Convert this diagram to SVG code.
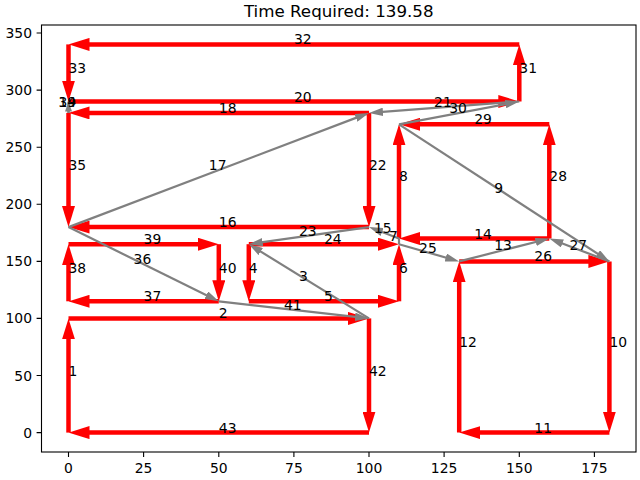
<svg xmlns="http://www.w3.org/2000/svg" width="640" height="480" viewBox="0 0 640 480">
<style>
text{font-family:"DejaVu Sans","Liberation Sans",sans-serif;fill:#000}
.lbl{font-size:13.9px}
.tick{font-size:13.9px}
.title{font-size:16.7px}
.red{stroke:#ff0000;stroke-width:4.5;fill:none;marker-end:url(#rh)}
.gray{stroke:#808080;stroke-width:2.2;fill:none;marker-end:url(#gh)}
.grayn{stroke:#808080;stroke-width:2.2;fill:none}
.tk{stroke:#000;stroke-width:1.1}
</style>
<defs>
<marker id="rh" viewBox="0 0 21 13" refX="11" refY="6.5" markerWidth="21" markerHeight="13" markerUnits="userSpaceOnUse" orient="auto"><path d="M0,0 L21,6.5 L0,13 z" fill="#ff0000"/></marker>
<marker id="gh" viewBox="0 0 14 8.4" refX="7" refY="4.2" markerWidth="14" markerHeight="8.4" markerUnits="userSpaceOnUse" orient="auto"><path d="M0,0 L14,4.2 L0,8.4 z" fill="#808080"/></marker>
</defs>
<rect width="640" height="480" fill="#fff"/>
<text class="title" x="338.75" y="16.7" text-anchor="middle">Time Required: 139.58</text>
<g id="connectors">
<g id="red-edges">
<path id="e1" class="red" d="M68.5,432.6 L68.5,328.4"/>
<path id="e2" class="red" d="M68.5,318.4 L359,318.4"/>
<path id="e4" class="red" d="M248.8,244.2 L248.8,291.3"/>
<path id="e5" class="red" d="M248.8,301.3 L389,301.3"/>
<path id="e6" class="red" d="M399,301.3 L399,254.2"/>
<path id="e8" class="red" d="M399,238.5 L399,134.3"/>
<path id="e10" class="red" d="M609.4,261.4 L609.4,422.6"/>
<path id="e11" class="red" d="M609.4,432.6 L469.2,432.6"/>
<path id="e12" class="red" d="M459.2,432.6 L459.2,271.4"/>
<path id="e14" class="red" d="M549.3,238.5 L409,238.5"/>
<path id="e16" class="red" d="M369,227.1 L78.5,227.1"/>
<path id="e18" class="red" d="M369,112.9 L78.5,112.9"/>
<path id="e20" class="red" d="M68.5,101.5 L509.3,101.5"/>
<path id="e22" class="red" d="M369,112.9 L369,217.1"/>
<path id="e24" class="red" d="M248.8,244.2 L389,244.2"/>
<path id="e26" class="red" d="M459.2,261.4 L599.4,261.4"/>
<path id="e28" class="red" d="M549.3,238.5 L549.3,134.3"/>
<path id="e29" class="red" d="M549.3,124.3 L409,124.3"/>
<path id="e31" class="red" d="M519.3,101.5 L519.3,54.4"/>
<path id="e32" class="red" d="M519.3,44.4 L78.5,44.4"/>
<path id="e33" class="red" d="M68.5,44.4 L68.5,91.5"/>
<path id="e35" class="red" d="M68.5,112.9 L68.5,217.1"/>
<path id="e37" class="red" d="M218.8,301.3 L78.5,301.3"/>
<path id="e38" class="red" d="M68.5,301.3 L68.5,254.2"/>
<path id="e39" class="red" d="M68.5,244.2 L208.8,244.2"/>
<path id="e40" class="red" d="M218.8,244.2 L218.8,291.3"/>
<path id="e42" class="red" d="M369,318.4 L369,422.6"/>
<path id="e43" class="red" d="M369,432.6 L78.5,432.6"/>
</g>
<g id="gray-edges">
<path id="e3" class="gray" d="M369,318.4 L254.76,247.88"/>
<path id="e7" class="grayn" d="M399,244.2 L399,238.5"/>
<path id="e9" class="gray" d="M399,124.3 L603.54,257.58"/>
<path id="e13" class="gray" d="M459.2,261.4 L542.52,240.22"/>
<path id="e15" class="gray" d="M399,238.5 L375.54,229.59"/>
<path id="e17" class="gray" d="M68.5,227.1 L362.46,115.39"/>
<path id="e21" class="gray" d="M519.3,101.5 L375.98,112.37"/>
<path id="e23" class="gray" d="M369,227.1 L255.73,243.21"/>
<path id="e25" class="gray" d="M399,244.2 L452.47,259.48"/>
<path id="e27" class="gray" d="M609.4,261.4 L555.84,240.99"/>
<path id="e30" class="gray" d="M399,124.3 L512.42,102.8"/>
<path id="e34" class="grayn" d="M68.5,101.5 L68.5,112.9"/>
<path id="e36" class="gray" d="M68.5,227.1 L212.52,298.2"/>
<path id="e41" class="gray" d="M218.8,301.3 L362.04,317.61"/>
<g id="e19"><path class="grayn" d="M68.5,112.9 L68.5,108"/><polygon points="68.5,101.5 72,111.5 65,111.5" fill="#808080"/></g>
</g>
</g>
<g id="axes">
<rect x="41.5" y="25" width="594.5" height="427" fill="none" stroke="#000" stroke-width="1.1"/>
<path class="tk" d="M68.5,452V456.9M143.6,452V456.9M218.8,452V456.9M293.9,452V456.9M369,452V456.9M444.1,452V456.9M519.3,452V456.9M594.4,452V456.9"/>
<path class="tk" d="M41.5,432.6H36.6M41.5,375.5H36.6M41.5,318.4H36.6M41.5,261.4H36.6M41.5,204.3H36.6M41.5,147.2H36.6M41.5,90.1H36.6M41.5,33H36.6"/>
<g class="tick" text-anchor="middle">
<text class="tick" x="68.5" y="472.5">0</text>
<text class="tick" x="143.6" y="472.5">25</text>
<text class="tick" x="218.8" y="472.5">50</text>
<text class="tick" x="293.9" y="472.5">75</text>
<text class="tick" x="369" y="472.5">100</text>
<text class="tick" x="444.1" y="472.5">125</text>
<text class="tick" x="519.3" y="472.5">150</text>
<text class="tick" x="594.4" y="472.5">175</text>
</g>
<g text-anchor="end">
<text class="tick" x="32" y="437.6">0</text>
<text class="tick" x="32" y="380.5">50</text>
<text class="tick" x="32" y="323.4">100</text>
<text class="tick" x="32" y="266.4">150</text>
<text class="tick" x="32" y="209.3">200</text>
<text class="tick" x="32" y="152.2">250</text>
<text class="tick" x="32" y="95.1">300</text>
<text class="tick" x="32" y="38">350</text>
</g>
</g>
<g id="labels" class="lbl">
<text class="lbl" x="68.5" y="375.5">1</text>
<text class="lbl" x="218.8" y="318.4">2</text>
<text class="lbl" x="298.9" y="281.3">3</text>
<text class="lbl" x="248.8" y="272.8">4</text>
<text class="lbl" x="323.9" y="301.3">5</text>
<text class="lbl" x="399" y="272.8">6</text>
<text class="lbl" x="389" y="241.4">7</text>
<text class="lbl" x="399" y="181.4">8</text>
<text class="lbl" x="494.2" y="192.8">9</text>
<text class="lbl" x="609.4" y="347">10</text>
<text class="lbl" x="534.3" y="432.6">11</text>
<text class="lbl" x="459.2" y="347">12</text>
<text class="lbl" x="494.2" y="249.9">13</text>
<text class="lbl" x="474.2" y="238.5">14</text>
<text class="lbl" x="374" y="232.8">15</text>
<text class="lbl" x="218.8" y="227.1">16</text>
<text class="lbl" x="208.8" y="170">17</text>
<text class="lbl" x="218.8" y="112.9">18</text>
<text class="lbl" x="58.5" y="107.2">19</text>
<text class="lbl" x="293.9" y="101.5">20</text>
<text class="lbl" x="434.1" y="107.2">21</text>
<text class="lbl" x="369" y="170">22</text>
<text class="lbl" x="298.9" y="235.7">23</text>
<text class="lbl" x="323.9" y="244.2">24</text>
<text class="lbl" x="419.1" y="252.8">25</text>
<text class="lbl" x="534.3" y="261.4">26</text>
<text class="lbl" x="569.4" y="249.9">27</text>
<text class="lbl" x="549.3" y="181.4">28</text>
<text class="lbl" x="474.2" y="124.3">29</text>
<text class="lbl" x="449.2" y="112.9">30</text>
<text class="lbl" x="519.3" y="73">31</text>
<text class="lbl" x="293.9" y="44.4">32</text>
<text class="lbl" x="68.5" y="73">33</text>
<text class="lbl" x="58.5" y="107.2">34</text>
<text class="lbl" x="68.5" y="170">35</text>
<text class="lbl" x="133.6" y="264.2">36</text>
<text class="lbl" x="143.6" y="301.3">37</text>
<text class="lbl" x="68.5" y="272.8">38</text>
<text class="lbl" x="143.6" y="244.2">39</text>
<text class="lbl" x="218.8" y="272.8">40</text>
<text class="lbl" x="283.9" y="309.9">41</text>
<text class="lbl" x="369" y="375.5">42</text>
<text class="lbl" x="218.8" y="432.6">43</text>
</g>
</svg>
